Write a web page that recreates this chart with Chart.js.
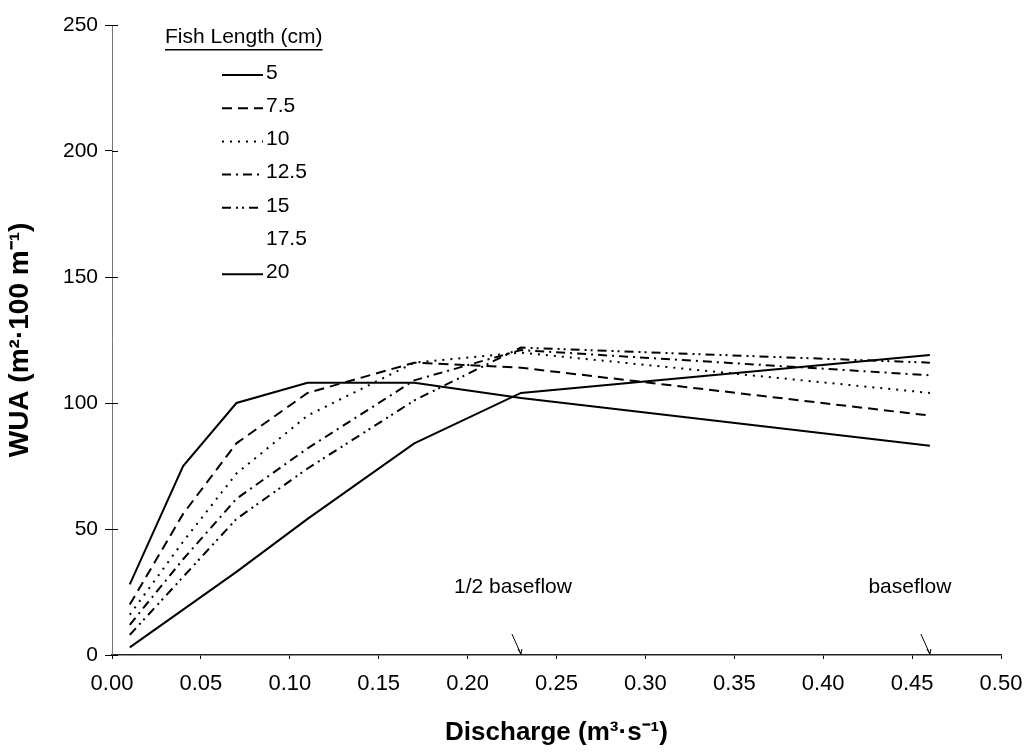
<!DOCTYPE html>
<html>
<head>
<meta charset="utf-8">
<script src="https://cdn.jsdelivr.net/npm/chart.js@4.4.1/dist/chart.umd.min.js"></script>
<style>
  html, body { margin: 0; padding: 0; background: #fff; }
</style>
</head>
<body>
<canvas id="c" width="1029" height="752"></canvas>
<script>
// discharge (m3/s) at which WUA was computed
const discharge = [0.01, 0.04, 0.07, 0.11, 0.17, 0.23, 0.46];

// fish length classes (cm)
const fishLengths = ['5', '7.5', '10', '12.5', '15', '17.5', '20'];

// WUA per fish length
const wua5    = [28, 75, 100, 108, 108, 102, 83];
const wua7_5  = [20, 56, 84, 104, 116, 114, 95];
const wua10   = [16, 45, 72, 95, 116, 120, 104];
const wua12_5 = [12, 38, 62, 82, 109, 121, 111];
const wua15   = [8, 31, 54, 74, 101, 122, 116];
const wua17_5 = [];   // listed in the legend, no line visible
const wua20   = [3, 18, 33, 54, 84, 104, 119];

const yTicks = [0, 50, 100, 150, 200, 250];
const xTicks = [0, 0.05, 0.1, 0.15, 0.2, 0.25, 0.3, 0.35, 0.4, 0.45, 0.5];

const markers = [
  { label: '1/2 baseflow', q: 0.23 },
  { label: 'baseflow', q: 0.46 }
];

const FONT = '"Liberation Sans", Arial, Helvetica, sans-serif';
Chart.defaults.font.family = FONT;
Chart.defaults.color = '#000';

const pts = vals => vals.map((v, i) => ({ x: discharge[i], y: v }));

function series(label, vals, dash, visible = true) {
  return {
    label,
    data: pts(vals),
    borderColor: visible ? '#000' : 'rgba(0,0,0,0)',
    borderWidth: 2,
    borderDash: dash,
    pointRadius: 0,
    fill: false,
    tension: 0
  };
}

const datasets = [
  series(fishLengths[0], wua5, []),
  series(fishLengths[1], wua7_5, [10, 6]),
  series(fishLengths[2], wua10, [2, 6]),
  series(fishLengths[3], wua12_5, [9, 5, 2, 5]),
  series(fishLengths[4], wua15, [9, 5, 2, 4, 2, 5]),
  series(fishLengths[5], wua17_5, [], false),
  series(fishLengths[6], wua20, [])
];

// legend drawn inside the plot, like the original
const fishLegend = {
  id: 'fishLegend',
  afterDraw(chart) {
    const ctx = chart.ctx;
    ctx.save();
    ctx.fillStyle = '#000';
    ctx.font = '21px ' + FONT;
    ctx.textBaseline = 'middle';
    const title = 'Fish Length (cm)';
    const tx = 165, ty = 37;
    ctx.fillText(title, tx, ty);
    const w = ctx.measureText(title).width;
    ctx.fillRect(tx, ty + 12, w, 1.5);

    chart.data.datasets.forEach((ds, i) => {
      const y = 73 + i * 33.2;
      ctx.beginPath();
      ctx.setLineDash(ds.borderDash || []);
      ctx.strokeStyle = ds.borderColor;
      ctx.lineWidth = 2;
      ctx.moveTo(222, y + 2);
      ctx.lineTo(263, y + 2);
      ctx.stroke();
      ctx.setLineDash([]);
      ctx.fillText(ds.label, 266, y);
    });
    ctx.restore();
  }
};

// y ticks cross the axis: draw the part inside the plot
const innerTicks = {
  id: 'innerTicks',
  afterDraw(chart) {
    const { ctx, scales: { y } } = chart;
    ctx.save();
    ctx.strokeStyle = '#000';
    ctx.lineWidth = 1;
    y.ticks.forEach(t => {
      const py = Math.round(y.getPixelForValue(t.value)) + 0.5;
      ctx.beginPath();
      ctx.moveTo(y.right, py);
      ctx.lineTo(y.right + 6, py);
      ctx.stroke();
    });
    ctx.restore();
  }
};

// "1/2 baseflow" and "baseflow" labels with small pointers to the axis
const labelShift = { '1/2 baseflow': -8, 'baseflow': -20 };
const flowMarks = {
  id: 'flowMarks',
  afterDraw(chart) {
    const { ctx, scales: { x, y } } = chart;
    ctx.save();
    ctx.fillStyle = '#000';
    ctx.strokeStyle = '#000';
    ctx.font = '21px ' + FONT;
    ctx.textAlign = 'center';
    ctx.textBaseline = 'middle';
    markers.forEach(m => {
      const px = x.getPixelForValue(m.q);
      const py = y.getPixelForValue(0);
      ctx.fillText(m.label, px + (labelShift[m.label] || 0), py - 68);
      ctx.lineWidth = 1;
      ctx.beginPath();
      ctx.moveTo(px - 9, py - 21);
      ctx.lineTo(px, py - 1);
      ctx.stroke();
      ctx.beginPath();
      ctx.moveTo(px - 3, py - 6);
      ctx.lineTo(px, py - 1);
      ctx.lineTo(px + 1, py - 6);
      ctx.stroke();
    });
    ctx.restore();
  }
};

new Chart(document.getElementById('c'), {
  type: 'line',
  data: { datasets },
  options: {
    responsive: false,
    animation: false,
    layout: { padding: { left: 0, top: 25, right: 28, bottom: 0 } },
    plugins: {
      legend: { display: false },
      tooltip: { enabled: false }
    },
    scales: {
      x: {
        type: 'linear',
        min: 0,
        max: 0.5,
        afterBuildTicks: s => { s.ticks = xTicks.map(v => ({ value: v })); },
        afterFit: s => { s.height = 97; s.paddingLeft = 0; s.paddingRight = 20; },
        ticks: {
          callback: v => v.toFixed(2),
          font: { size: 22 },
          padding: 12,
          maxRotation: 0
        },
        grid: { drawOnChartArea: false, tickLength: 4, color: '#000', lineWidth: 1 },
        border: { color: '#222', width: 1.5 },
        title: {
          display: true,
          text: 'Discharge (m³·s⁻¹)',
          font: { size: 26, weight: 'bold' },
          padding: { top: 4, bottom: 4 }
        }
      },
      y: {
        min: 0,
        max: 250,
        afterBuildTicks: s => { s.ticks = yTicks.map(v => ({ value: v })); },
        afterFit: s => { s.width = 112; },
        ticks: { font: { size: 21 }, padding: 7 },
        grid: { drawOnChartArea: false, tickLength: 7, color: '#000', lineWidth: 1 },
        border: { color: '#777', width: 1, dash: [2, 4] },
        title: {
          display: true,
          text: 'WUA (m²·100 m⁻¹)',
          font: { size: 28, weight: 'bold' },
          padding: { top: 3, bottom: 3 }
        }
      }
    }
  },
  plugins: [fishLegend, innerTicks, flowMarks]
});
</script>
</body>
</html>
